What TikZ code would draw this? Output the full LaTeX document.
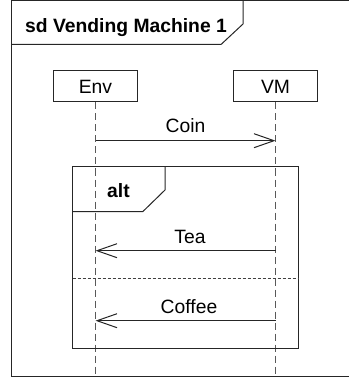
\documentclass[tikz,border=0pt]{standalone}
\usepackage{fontspec}
\setmainfont{Liberation Sans}
\usetikzlibrary{arrows.meta}
\begin{document}
\begin{tikzpicture}[x=1pt,y=-1pt,
  frameline/.style={draw=black!85,line width=1pt},
  lifebox/.style={draw=black!85,line width=1pt,minimum width=84pt,minimum height=31pt,inner sep=0pt,font=\fontsize{19.3}{22}\selectfont},
  lifeline/.style={draw=black!65,line width=1pt,dash pattern=on 7pt off 4pt},
  msg/.style={draw=black!85,line width=1pt,-{Straight Barb[length=20pt,width=14pt,line width=1pt]}},
  lbl/.style={font=\fontsize{19.3}{22}\selectfont,anchor=base,inner sep=0pt},
  tablbl/.style={font=\bfseries\fontsize{19.3}{22}\selectfont,anchor=base,inner sep=0pt},
  sep/.style={draw=black!75,line width=1pt,dash pattern=on 3pt off 2pt}]
\useasboundingbox (0,0) rectangle (348,379);
% outer frame
\draw[frameline] (11.5,1) rectangle (352,376);
\draw[frameline] (11.5,44.5) -- (221,44.5) -- (243,24) -- (243,1);
\node[tablbl,anchor=base west] (title) at (25,32.7) {sd Vending Machine 1};
% lifelines
\node[lifebox] (env) at (95.5,86.5) {Env};
\node[lifebox] (vm) at (275.5,86.5) {VM};
\coordinate (envend) at (95.5,376);
\coordinate (vmend) at (275.5,376);
\draw[lifeline] (env.south) -- (envend);
\draw[lifeline] (vm.south) -- (vmend);
% coin
\coordinate (c1) at (95.5,140.7);
\coordinate (c2) at (275.5,140.7);
\draw[msg] (c1) -- (c2);
\node[lbl] (coin) at (185.5,133) {Coin};
% alt frame
\draw[frameline] (72.7,167) rectangle (298,348);
\draw[frameline] (72.7,211.7) -- (142.7,211.7) -- (165,190) -- (165,167);
\node[tablbl] (alt) at (118.5,197) {alt};
% tea
\coordinate (t1) at (275.5,250.7);
\coordinate (t2) at (95.5,250.7);
\draw[msg] (t1) -- (t2);
\node[lbl] (tea) at (190,243) {Tea};
% separator
\coordinate (s1) at (72.7,278);
\coordinate (s2) at (298,278);
\draw[sep] (s1) -- (s2);
% coffee
\coordinate (f1) at (275.5,320.7);
\coordinate (f2) at (95.5,320.7);
\draw[msg] (f1) -- (f2);
\node[lbl] (coffee) at (189,313) {Coffee};
\end{tikzpicture}
\end{document}
